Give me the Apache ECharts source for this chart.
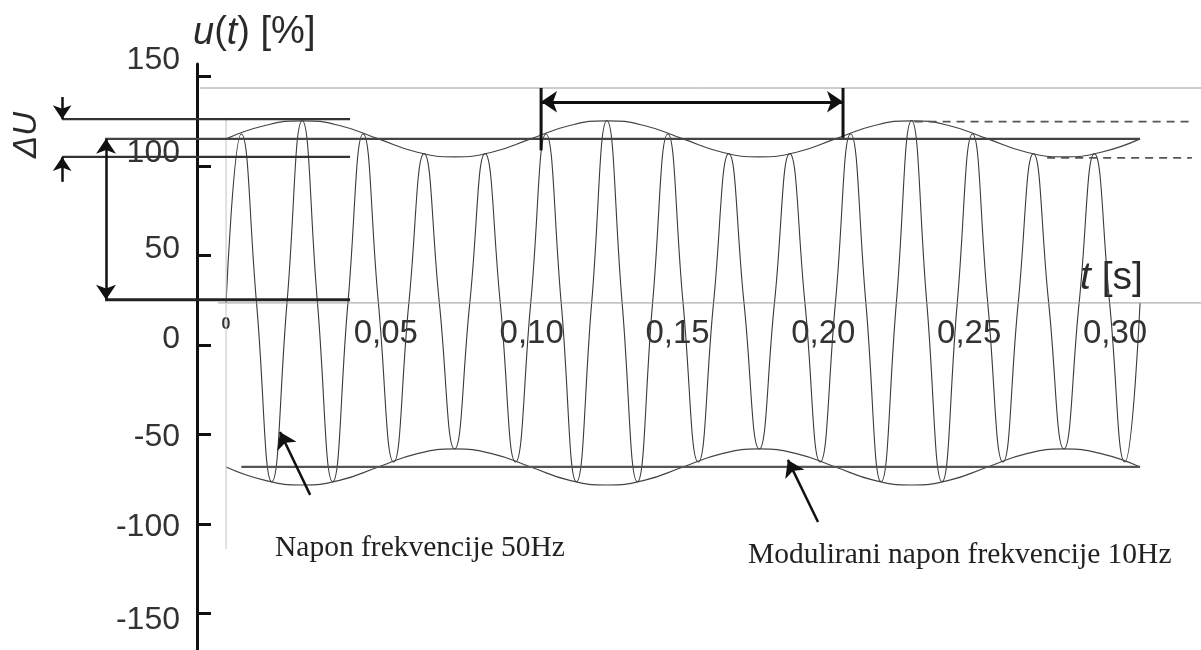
<!DOCTYPE html>
<html>
<head>
<meta charset="utf-8">
<script src="https://cdn.jsdelivr.net/npm/echarts@6/dist/echarts.min.js"></script>
<style>
html,body{margin:0;padding:0;background:#fff;}
#chart{width:1201px;height:650px;}
</style>
</head>
<body>
<div id="chart"></div>
<script>
// ---- values ----
const yTicks = [-150, -100, -50, 0, 50, 100, 150];
const xTickLabels = ['0', '0,05', '0,10', '0,15', '0,20', '0,25', '0,30'];

// 50 Hz carrier: zero crossings and extrema (times in s, values in %)
const zeroT = [0, 0.01, 0.02, 0.03, 0.04, 0.05, 0.06, 0.07, 0.08, 0.09, 0.10,
  0.11, 0.12, 0.13, 0.14, 0.15, 0.16, 0.17, 0.18, 0.19, 0.20,
  0.21, 0.22, 0.23, 0.24, 0.25, 0.26, 0.27, 0.28, 0.29, 0.30];
const extremaT = [0.005, 0.015, 0.025, 0.035, 0.045, 0.055, 0.065, 0.075, 0.085, 0.095,
  0.105, 0.115, 0.125, 0.135, 0.145, 0.155, 0.165, 0.175, 0.185, 0.195,
  0.205, 0.215, 0.225, 0.235, 0.245, 0.255, 0.265, 0.275, 0.285, 0.295];
const extremaU = [103, -109, 111, -109, 103, -97, 91, -89, 91, -97,
  103, -109, 111, -109, 103, -97, 91, -89, 91, -97,
  103, -109, 111, -109, 103, -97, 91, -89, 91, -97];

// 10 Hz modulation envelope
const envT = [0, 0.0125, 0.025, 0.0375, 0.05, 0.0625, 0.075, 0.0875,
  0.10, 0.1125, 0.125, 0.1375, 0.15, 0.1625, 0.175, 0.1875,
  0.20, 0.2125, 0.225, 0.2375, 0.25, 0.2625, 0.275, 0.2875, 0.30];
const envUpper = [100, 108, 111, 108, 100, 92, 89, 92,
  100, 108, 111, 108, 100, 92, 89, 92,
  100, 108, 111, 108, 100, 92, 89, 92, 100];
const envLower = [-100, -108, -111, -108, -100, -92, -89, -92,
  -100, -108, -111, -108, -100, -92, -89, -92,
  -100, -108, -111, -108, -100, -92, -89, -92, -100];

// reference levels (%)
const levelTop = 131, levelMaxRef = 112, levelMean = 100, levelMinRef = 89, levelDashMax = 110.5, levelDashMin = 88.4;
const periodStart = 0.1034, periodEnd = 0.2025;

// ---- build series data ----
const wave = [];
zeroT.forEach((t, i) => {
  wave.push([t, 0]);
  if (i < extremaT.length) wave.push([extremaT[i], extremaU[i]]);
});
const upper = envT.map((t, i) => [t, envUpper[i]]);
const lower = envT.map((t, i) => [t, envLower[i]]);

const chart = echarts.init(document.getElementById('chart'), null, {renderer: 'canvas'});

function seg(points, color, width, type) {
  return {
    type: 'line', xAxisIndex: 1, yAxisIndex: 1, data: points, symbol: 'none',
    clip: false, silent: true, z: 3,
    lineStyle: {color: color, width: width, type: type || 'solid'}
  };
}
function arrow(from, to, both, width, size) {
  return {
    type: 'lines', coordinateSystem: 'cartesian2d', xAxisIndex: 1, yAxisIndex: 1,
    clip: false, silent: true, z: 4,
    symbol: both ? ['arrow', 'arrow'] : ['none', 'arrow'],
    symbolSize: size || 13,
    lineStyle: {color: '#111', width: width || 2.5, opacity: 1, curveness: 0},
    data: [{coords: [from, to]}]
  };
}

const labelOffsets = [6.5, 3, 3, -5.5, -6.5, -12.5, -16];
const rich = {};
labelOffsets.forEach((d, i) => {
  rich['o' + i] = {
    fontSize: 32, fontFamily: 'Liberation Sans', color: '#333',
    padding: d >= 0 ? [2 * d, 0, 0, 0] : [0, 0, -2 * d, 0]
  };
});

const option = {
  animation: false,
  backgroundColor: '#fff',
  grid: [
    {left: 197, top: 64, width: 10, height: 587, outerBoundsMode: 'none'},
    {left: 0, right: 0, top: 88, height: 461, outerBoundsMode: 'none'},
    {left: 240, width: 875, top: 290, height: 13, outerBoundsMode: 'none'}
  ],
  xAxis: [
    {gridIndex: 0, type: 'value', show: false},
    {gridIndex: 1, type: 'value', min: -0.0742, max: 0.32, show: false},
    {gridIndex: 2, type: 'value', min: 0, max: 0.30, interval: 0.05,
      axisLine: {show: false}, axisTick: {show: false}, splitLine: {show: false},
      axisLabel: {
        margin: 14, color: '#333', fontSize: 33, fontFamily: 'Liberation Sans',
        formatter: function (v) {
          const i = Math.round(v / 0.05);
          return i === 0 ? '{z|' + xTickLabels[0] + '}' : xTickLabels[i];
        },
        rich: {z: {fontSize: 16, fontWeight: 'bold', fontFamily: 'Liberation Sans', color: '#333', padding: [0, 28, 0, 0]}}
      }
    }
  ],
  yAxis: [
    {gridIndex: 0, type: 'value', min: -171, max: 157,
      axisLine: {show: true, lineStyle: {color: '#111', width: 3}},
      axisTick: {show: true, inside: true, length: 14, lineStyle: {color: '#111', width: 3}, customValues: yTicks},
      splitLine: {show: false},
      axisLabel: {
        margin: 17, customValues: yTicks,
        formatter: function (v) { return '{o' + yTicks.indexOf(v) + '|' + v + '}'; },
        rich: rich
      }
    },
    {gridIndex: 1, type: 'value', min: -150, max: 131, show: false},
    {gridIndex: 2, type: 'value', min: 0, max: 1, show: false}
  ],
  graphic: [
    {type: 'text', x: 193, y: 33, silent: true, style: {
      text: '{i|u}({i|t}) [%]', fill: '#2a2a2a', fontSize: 38, fontFamily: 'Liberation Sans',
      verticalAlign: 'middle', align: 'left',
      rich: {i: {fontStyle: 'italic', fontSize: 38, fontFamily: 'Liberation Sans', fill: '#2a2a2a'}}
    }},
    {type: 'text', x: 1080, y: 278, silent: true, style: {
      text: '{i|t} [s]', fill: '#2a2a2a', fontSize: 39, fontFamily: 'Liberation Sans',
      verticalAlign: 'middle', align: 'left',
      rich: {i: {fontStyle: 'italic', fontSize: 39, fontFamily: 'Liberation Sans', fill: '#2a2a2a'}}
    }},
    {type: 'text', x: 27, y: 135, rotation: Math.PI / 2, silent: true, style: {
      text: 'ΔU', fill: '#2a2a2a', fontSize: 33, fontStyle: 'italic', fontFamily: 'Liberation Sans',
      align: 'center', verticalAlign: 'middle'
    }},
    {type: 'text', x: 275, y: 548, silent: true, style: {
      text: 'Napon frekvencije 50Hz', fill: '#222', fontSize: 29.5, fontFamily: 'Liberation Serif',
      align: 'left', verticalAlign: 'middle'
    }},
    {type: 'text', x: 748, y: 555, silent: true, style: {
      text: 'Modulirani napon frekvencije 10Hz', fill: '#222', fontSize: 29.5, fontFamily: 'Liberation Serif',
      align: 'left', verticalAlign: 'middle'
    }}
  ],
  series: [
    seg([[-0.0085, levelTop], [0.32, levelTop]], '#9a9a9a', 1),
    seg([[-0.0026, 0], [0.32, 0]], '#9a9a9a', 1),
    seg([[0, 113], [0, -150]], '#c4c4c4', 1),
    {type: 'line', xAxisIndex: 1, yAxisIndex: 1, data: wave, symbol: 'none', smooth: 0.5,
      clip: false, silent: true, z: 2, lineStyle: {color: '#3a3a3a', width: 1.1}},
    {type: 'line', xAxisIndex: 1, yAxisIndex: 1, data: upper, symbol: 'none', smooth: 0.5,
      clip: false, silent: true, z: 2, lineStyle: {color: '#444', width: 1.2}},
    {type: 'line', xAxisIndex: 1, yAxisIndex: 1, data: lower, symbol: 'none', smooth: 0.5,
      clip: false, silent: true, z: 2, lineStyle: {color: '#444', width: 1.2}},
    seg([[-0.0538, levelMaxRef], [0.0407, levelMaxRef]], '#333', 2.2),
    seg([[-0.0538, levelMinRef], [0.0407, levelMinRef]], '#333', 2.2),
    seg([[-0.0397, levelMean], [0.30, levelMean]], '#444', 2.2),
    seg([[-0.0397, 2], [0.0407, 2]], '#222', 3),
    seg([[0.005, -levelMean], [0.30, -levelMean]], '#555', 2.2),
    seg([[periodStart, levelTop], [periodStart, 93]], '#111', 3),
    seg([[periodEnd, levelTop], [periodEnd, 100.6]], '#111', 3),
    seg([[0.226, levelDashMax], [0.317, levelDashMax]], '#555', 1.6, [8, 6]),
    seg([[0.2695, levelDashMin], [0.317, levelDashMin]], '#555', 1.6, [8, 6]),
    arrow([-0.0394, levelMean], [-0.0394, 2], true, 2.5, 15),
    arrow([-0.0538, 125.5], [-0.0538, levelMaxRef], false, 2.5, 14),
    arrow([-0.0538, 73.8], [-0.0538, levelMinRef], false, 2.5, 14),
    arrow([periodStart, 122.6], [periodEnd, 122.6], true, 3, 16),
    arrow([0.0276, -117], [0.0177, -78.7], false, 2.5, 16),
    arrow([0.1943, -133.5], [0.1844, -95.7], false, 2.5, 16)
  ]
};
chart.setOption(option);
</script>
</body>
</html>
